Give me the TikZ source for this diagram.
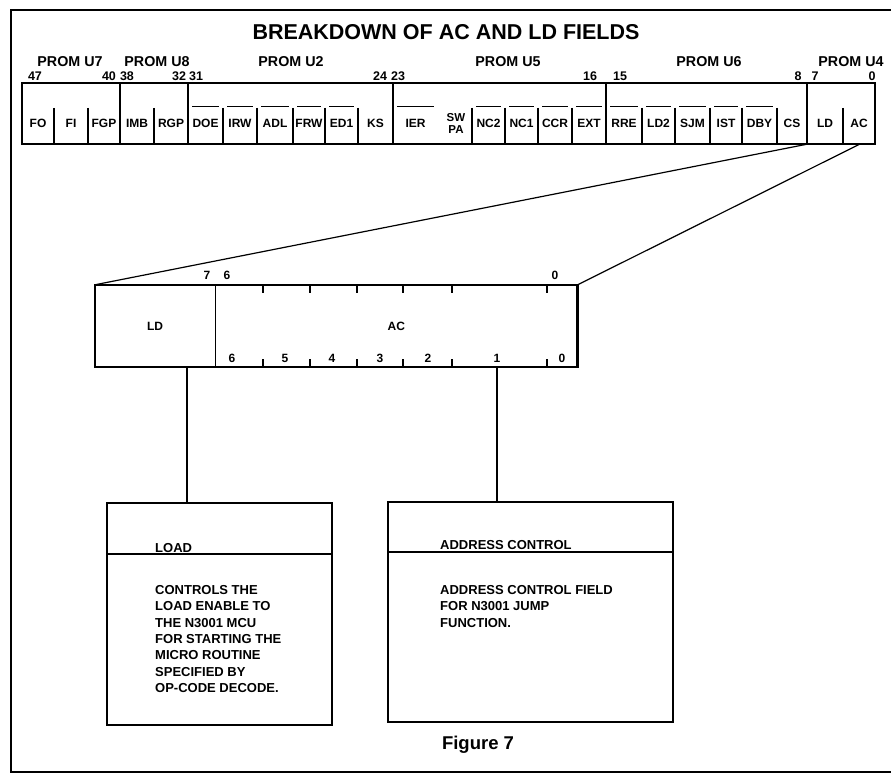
\documentclass[tikz,border=0pt]{standalone}
\usepackage{fontspec}
\setmainfont{Liberation Sans}
\usetikzlibrary{positioning,calc}

\begin{document}
\begin{tikzpicture}[x=1pt,y=-1pt,
fld/.style={inner sep=0pt,font=\fontsize{12}{12}\selectfont\bfseries},
num/.style={inner sep=0pt,font=\fontsize{12.5}{12.5}\selectfont\bfseries},
prom/.style={inner sep=0pt,font=\fontsize{14.3}{15}\selectfont\bfseries},
regf/.style={inner sep=0pt,minimum height=82pt,font=\fontsize{12}{12}\selectfont\bfseries},
desc/.style={draw,line width=2pt,inner sep=0pt},
head/.style={inner sep=0pt,anchor=west,font=\fontsize{13}{13}\selectfont\bfseries},
body/.style={inner sep=0pt,anchor=north west,align=left,font=\fontsize{13}{16.4}\selectfont\bfseries},
heavy/.style={line width=2.4pt},
div/.style={line width=1.4pt},
bar/.style={line width=1pt},
tick/.style={line width=1.2pt},
link/.style={line width=1.2pt}]
\useasboundingbox (0,0) rectangle (891,773);
\draw[line width=1.6pt] (893,10) -- (11,10) -- (11,772) -- (893,772);
\node[inner sep=0pt,font=\fontsize{21.5}{22}\selectfont\bfseries] (title) at (446,32) {BREAKDOWN OF AC AND LD FIELDS};
\foreach \x/\p in {70/U7,157/U8,291/U2,508/U5,709/U6,851/U4}
  \node[prom] (p\p) at (\x,62) {PROM \p};
\foreach \x/\n in {35/47,109/40,127/38,179/32,196/31,380/24,398/23,590/16,620/15,798/8,815/7,872/0}
  \node[num] (b\n) at (\x,76) {\n};
\foreach \l/\r/\t/\b in {22/54/FO/0,54/88/FI/0,88/120/FGP/0,120/154/IMB/0,154/188/RGP/0,
  188/223/DOE/1,223/257/IRW/1,257/293/ADL/1,293/325/FRW/1,325/358/ED1/1,358/393/KS/0,
  393/438/IER/1,472/505/NC2/1,505/538/NC1/1,538/572/CCR/1,572/606/EXT/1,606/642/RRE/1,
  642/675/LD2/1,675/710/SJM/1,710/742/IST/1,742/777/DBY/1,777/807/CS/0,807/843/LD/0,843/875/AC/0}{
  \node[fld] (f\t) at ({(\l+\r)/2},123) {\t};
  \ifnum\b=1 \draw[bar] (\l+4,107) -- (\r-4,107);\fi
}
\node[fld,align=center,font=\fontsize{11.5}{12}\selectfont\bfseries] (fSWPA) at (456,123) {SW\\PA};
\foreach \x in {54,88,154,223,257,293,325,358,472,505,538,572,642,675,710,742,777,843}
  \draw[div] (\x,108) -- (\x,144);
\foreach \x in {120,188,393,606,807}
  \draw[heavy] (\x,83) -- (\x,144);
\draw[heavy] (22,83) rectangle (875,144);
\coordinate (ldfoot) at (808,144);
\coordinate (acfoot) at (860,144);

\node[regf,minimum width=120pt] (regLD) at (155,326) {LD};
\node[regf,minimum width=362pt,right=0pt of regLD] (regAC) {AC};
\draw[line width=1.2pt] (regLD.north east) -- (regLD.south east);
\draw[heavy] (regLD.north west) rectangle (regAC.south east);
\foreach \x in {263,310,357,403,452,547}{
  \draw[tick] (\x,285) -- (\x,293);
  \draw[tick] (\x,367) -- (\x,359);
}
\foreach \x/\n in {207/7,227/6,555/0}
  \node[num,font=\fontsize{12}{12}\selectfont\bfseries] (t\n) at (\x,275) {\n};
\foreach \x/\n in {232/6,285/5,332/4,380/3,428/2,497/1,562/0}
  \node[num,font=\fontsize{12}{12}\selectfont\bfseries] (u\n) at (\x,358) {\n};
\draw[link] (regLD.north west) -- (ldfoot);
\draw[link] (regAC.north east) -- (acfoot);

\node[desc,minimum width=225pt,minimum height=222pt] (load) at (219.5,614) {};
\node[desc,minimum width=285pt,minimum height=220pt] (addr) at (530.5,612) {};
\draw[line width=1.4pt] ([yshift=-52pt]load.north west) -- ([yshift=-52pt]load.north east);
\draw[line width=1.4pt] ([yshift=-51pt]addr.north west) -- ([yshift=-51pt]addr.north east);
\node[head] (loadhead) at (155,548) {LOAD};
\node[head] (addrhead) at (440,545) {ADDRESS CONTROL};
\node[body] (loadtext) at (155,585) {CONTROLS THE\\LOAD ENABLE TO\\THE N3001 MCU\\FOR STARTING THE\\MICRO ROUTINE\\SPECIFIED BY\\OP-CODE DECODE.};
\node[body] (addrtext) at (440,585) {ADDRESS CONTROL FIELD\\FOR N3001 JUMP\\FUNCTION.};
\coordinate (tapL) at (187,367);
\coordinate (tapR) at (497,367);
\draw[link] (tapL) -- (tapL |- load.north);
\draw[link] (tapR) -- (tapR |- addr.north);

\node[inner sep=0pt,font=\fontsize{18.5}{19}\selectfont\bfseries] (fig) at (478,745) {Figure 7};
\end{tikzpicture}
\end{document}
